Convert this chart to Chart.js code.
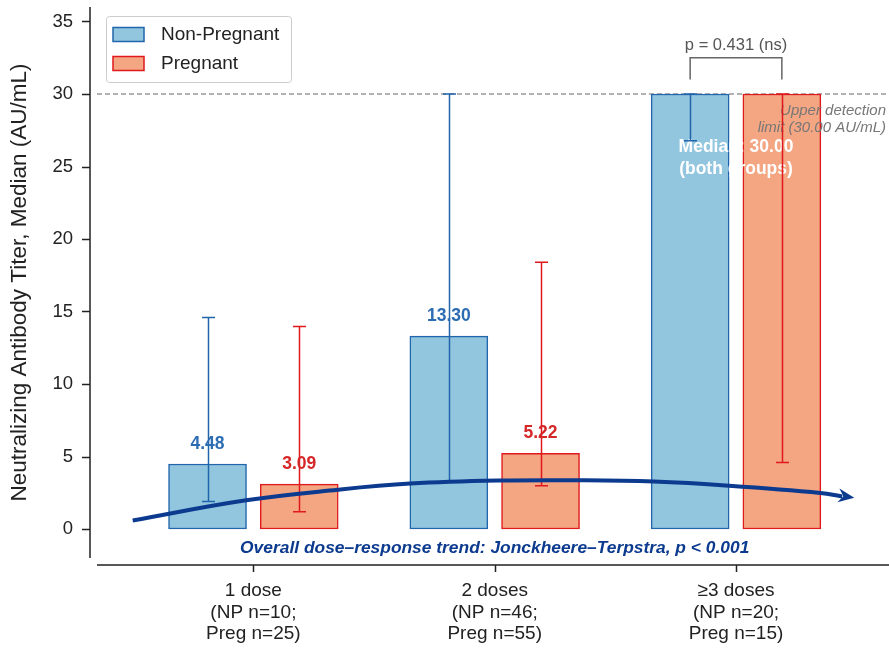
<!DOCTYPE html>
<html>
<head>
<meta charset="utf-8">
<script src="https://cdn.jsdelivr.net/npm/chart.js@4"></script>
<style>
  html, body { margin: 0; padding: 0; background: #fff; }
  #wrap { width: 889px; height: 648px; }
</style>
</head>
<body>
<div id="wrap"><canvas id="doseChart" width="889" height="648"></canvas></div>
<script>
// categories and n per group
const categories = [
    ['1 dose', '(NP n=10;', 'Preg n=25)'],
    ['2 doses', '(NP n=46;', 'Preg n=55)'],
    ['\u22653 doses', '(NP n=20;', 'Preg n=15)']
];
const yTicks = [0, 5, 10, 15, 20, 25, 30, 35];

// medians
const npMedian = [4.48, 13.30, 30.00];
const pgMedian = [3.09, 5.22, 30.00];
// error bar ranges
const npLow = [1.89, 3.29, 26.77];
const npHigh = [14.59, 30.0, 30.0];
const pgLow = [1.19, 2.99, 4.58];
const pgHigh = [13.97, 18.39, 30.0];

// dose-response trend curve
const trendX = [-0.50, -0.03, 0.35, 0.65, 1.02, 1.35, 1.66, 1.97, 2.35, 2.44];
const trendY = [0.59, 1.98, 2.71, 3.13, 3.34, 3.36, 3.27, 2.99, 2.49, 2.24];
const trendTip = [2.49, 2.16];

const upperLimit = 30;
const pValue = 'p = 0.431 (ns)';

const NP_FILL = '#92c5de', NP_EDGE = '#2166ac', NP_TEXT = '#2b6cb3';
const PG_FILL = '#f4a582', PG_EDGE = '#e0191c', PG_TEXT = '#d62728';
const NAVY = '#0b3a8f';
const FONT = '"Liberation Sans", Arial, sans-serif';
const OFFSET = 0.19;

Chart.defaults.font.family = FONT;

const overlay = {
    id: 'overlay',
    beforeDatasetsDraw(chart) {
        const ctx = chart.ctx, x = chart.scales.x, y = chart.scales.y, ca = chart.chartArea;
        ctx.save();
        // spines (offset from the plot area)
        ctx.strokeStyle = '#222';
        ctx.lineWidth = 1.5;
        ctx.beginPath();
        ctx.moveTo(ca.left - 7, ca.top);
        ctx.lineTo(ca.left - 7, ca.bottom);
        yTicks.forEach(v => {
            const py = Math.round(y.getPixelForValue(v)) + 0.5;
            ctx.moveTo(ca.left - 15, py);
            ctx.lineTo(ca.left - 7, py);
        });
        ctx.moveTo(ca.left, ca.bottom + 7);
        ctx.lineTo(ca.right, ca.bottom + 7);
        [0, 1, 2].forEach(v => {
            const px = Math.round(x.getPixelForValue(v)) + 0.5;
            ctx.moveTo(px, ca.bottom + 7);
            ctx.lineTo(px, ca.bottom + 14);
        });
        ctx.stroke();

        // upper detection limit
        const ly = y.getPixelForValue(upperLimit);
        ctx.strokeStyle = '#999';
        ctx.lineWidth = 1.3;
        ctx.setLineDash([5, 3]);
        ctx.beginPath();
        ctx.moveTo(ca.left, ly);
        ctx.lineTo(ca.right, ly);
        ctx.stroke();
        ctx.restore();
    },
    afterDatasetDraw(chart, args) {
        if (args.index !== 1) return;
        const ctx = chart.ctx, x = chart.scales.x, y = chart.scales.y;
        ctx.save();
        // texts inside the >=3 doses bars
        ctx.fillStyle = '#777';
        ctx.font = 'italic 15px ' + FONT;
        ctx.textAlign = 'right';
        ctx.textBaseline = 'middle';
        ctx.fillText('Upper detection', 886, 111);
        ctx.fillText('limit (30.00 AU/mL)', 886, 128);
        ctx.fillStyle = '#fff';
        ctx.font = 'bold 17.5px ' + FONT;
        ctx.textAlign = 'center';
        ctx.fillText('Median: 30.00', x.getPixelForValue(2), 147);
        ctx.fillText('(both groups)', x.getPixelForValue(2), 169);

        // error bars
        const drawErr = (lows, highs, shift, color) => {
            ctx.strokeStyle = color;
            ctx.lineWidth = 1.5;
            lows.forEach((lo, i) => {
                const px = Math.round(x.getPixelForValue(i + shift)) + 0.5;
                const pl = y.getPixelForValue(lo), ph = y.getPixelForValue(highs[i]);
                ctx.beginPath();
                ctx.moveTo(px, pl);
                ctx.lineTo(px, ph);
                ctx.moveTo(px - 6.5, pl);
                ctx.lineTo(px + 6.5, pl);
                ctx.moveTo(px - 6.5, ph);
                ctx.lineTo(px + 6.5, ph);
                ctx.stroke();
            });
        };
        drawErr(npLow, npHigh, -OFFSET, NP_EDGE);
        drawErr(pgLow, pgHigh, OFFSET, PG_EDGE);
        ctx.restore();
    },
    afterDatasetsDraw(chart) {
        const ctx = chart.ctx, x = chart.scales.x, y = chart.scales.y;
        ctx.save();
        // arrow head of trend
        const n = trendX.length;
        const ax = x.getPixelForValue(trendTip[0]), ay = y.getPixelForValue(trendTip[1]);
        const bx = x.getPixelForValue(trendX[n - 2]), by = y.getPixelForValue(trendY[n - 2]);
        const ang = Math.atan2(ay - by, ax - bx);
        const c = Math.cos(ang), s = Math.sin(ang);
        ctx.fillStyle = NAVY;
        ctx.beginPath();
        ctx.moveTo(ax, ay);
        ctx.lineTo(ax - 16 * c + 7 * s, ay - 16 * s - 7 * c);
        ctx.lineTo(ax - 11 * c, ay - 11 * s);
        ctx.lineTo(ax - 16 * c - 7 * s, ay - 16 * s + 7 * c);
        ctx.closePath();
        ctx.fill();

        // value labels (not for the capped group)
        ctx.font = 'bold 17.5px ' + FONT;
        ctx.textAlign = 'center';
        ctx.textBaseline = 'alphabetic';
        [0, 1].forEach(i => {
            ctx.fillStyle = NP_TEXT;
            ctx.fillText(npMedian[i].toFixed(2), x.getPixelForValue(i - OFFSET), y.getPixelForValue(npMedian[i]) - 15);
            ctx.fillStyle = PG_TEXT;
            ctx.fillText(pgMedian[i].toFixed(2), x.getPixelForValue(i + OFFSET), y.getPixelForValue(pgMedian[i]) - 15);
        });

        // significance bracket
        const l = x.getPixelForValue(2 - OFFSET), r = x.getPixelForValue(2 + OFFSET);
        const top = y.getPixelForValue(32.5), leg = y.getPixelForValue(31.0);
        ctx.strokeStyle = '#666';
        ctx.lineWidth = 1.5;
        ctx.beginPath();
        ctx.moveTo(l, leg);
        ctx.lineTo(l, top);
        ctx.lineTo(r, top);
        ctx.lineTo(r, leg);
        ctx.stroke();
        ctx.fillStyle = '#555';
        ctx.font = '16.5px ' + FONT;
        ctx.textBaseline = 'middle';
        ctx.fillText(pValue, (l + r) / 2, 45);

        // trend caption
        ctx.fillStyle = NAVY;
        ctx.font = 'italic bold 17.4px ' + FONT;
        ctx.fillText('Overall dose\u2013response trend: Jonckheere\u2013Terpstra, p < 0.001', x.getPixelForValue(1), 548);

        // legend
        ctx.fillStyle = 'rgba(255,255,255,0.85)';
        ctx.strokeStyle = '#cccccc';
        ctx.lineWidth = 1;
        ctx.beginPath();
        ctx.roundRect(106.5, 16.5, 185, 66, 3);
        ctx.fill();
        ctx.stroke();
        const items = [['Non-Pregnant', NP_FILL, NP_EDGE, 34.5], ['Pregnant', PG_FILL, PG_EDGE, 63.5]];
        items.forEach(([label, fill, edge, cy]) => {
            ctx.fillStyle = fill;
            ctx.fillRect(113, cy - 7, 31, 14);
            ctx.strokeStyle = edge;
            ctx.lineWidth = 1.5;
            ctx.strokeRect(113, cy - 7, 31, 14);
            ctx.fillStyle = '#222';
            ctx.font = '19px ' + FONT;
            ctx.textAlign = 'left';
            ctx.fillText(label, 161, cy);
        });
        ctx.restore();
    }
};

new Chart(document.getElementById('doseChart').getContext('2d'), {
    type: 'bar',
    data: {
        datasets: [
            {
                type: 'bar',
                label: 'Non-Pregnant',
                data: npMedian.map((v, i) => ({ x: i - OFFSET, y: v })),
                backgroundColor: NP_FILL,
                borderColor: NP_EDGE,
                borderWidth: 1.5,
                borderSkipped: false,
                barThickness: 78,
                grouped: false,
                order: 2
            },
            {
                type: 'bar',
                label: 'Pregnant',
                data: pgMedian.map((v, i) => ({ x: i + OFFSET, y: v })),
                backgroundColor: PG_FILL,
                borderColor: PG_EDGE,
                borderWidth: 1.5,
                borderSkipped: false,
                barThickness: 78,
                grouped: false,
                order: 1
            },
            {
                type: 'line',
                label: 'Trend',
                data: trendX.map((v, i) => ({ x: v, y: trendY[i] })),
                borderColor: NAVY,
                borderWidth: 4,
                pointRadius: 0,
                tension: 0.4,
                fill: false,
                order: 0
            }
        ]
    },
    options: {
        responsive: false,
        animation: false,
        layout: { padding: { top: 7, left: 0, right: 0, bottom: 0 } },
        plugins: { legend: { display: false }, tooltip: { enabled: false } },
        scales: {
            x: {
                type: 'linear',
                offset: false,
                min: -0.648,
                max: 2.634,
                afterBuildTicks: s => { s.ticks = [0, 1, 2].map(v => ({ value: v })); },
                afterFit: s => { s.height = 90; s.paddingLeft = 0; s.paddingRight = 0; },
                grid: { display: false, drawTicks: false },
                border: { display: false },
                ticks: {
                    callback: v => categories[v],
                    color: '#222',
                    font: { size: 19, lineHeight: '21.7px' },
                    padding: 22,
                    maxRotation: 0,
                    autoSkip: false
                }
            },
            y: {
                min: -2,
                max: 36,
                afterBuildTicks: s => { s.ticks = yTicks.map(v => ({ value: v })); },
                afterFit: s => { s.width = 97; s.paddingTop = 0; s.paddingBottom = 0; },
                grid: { display: false, drawTicks: false },
                border: { display: false },
                ticks: { color: '#222', font: { size: 18.5 }, padding: 24 },
                title: {
                    display: true,
                    text: 'Neutralizing Antibody Titer, Median (AU/mL)',
                    color: '#222',
                    font: { size: 22.5 },
                    padding: { top: 6, bottom: 4 }
                }
            }
        }
    },
    plugins: [overlay]
});
</script>
</body>
</html>
